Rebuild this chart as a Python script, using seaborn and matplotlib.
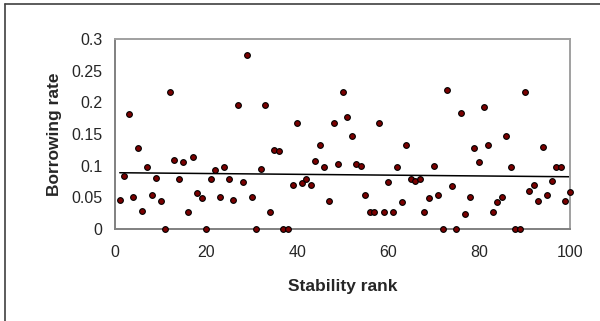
import numpy as np
import pandas as pd
import matplotlib
matplotlib.use('Agg')
import matplotlib.pyplot as plt
from matplotlib.lines import Line2D
from matplotlib.ticker import FuncFormatter
import seaborn as sns

sns.set_style('white')
plt.rcParams['font.family'] = ['Liberation Sans', 'DejaVu Sans']

# stability rank 1..100 and borrowing rate
rank = list(range(1, 101))
rate = [
    0.046, 0.083, 0.181, 0.051, 0.128, 0.028, 0.098, 0.053, 0.081, 0.044,
    0.000, 0.216, 0.109, 0.079, 0.106, 0.026, 0.114, 0.056, 0.049, 0.000,
    0.079, 0.093, 0.051, 0.098, 0.079, 0.046, 0.195, 0.074, 0.274, 0.051,
    0.000, 0.095, 0.195, 0.026, 0.125, 0.123, 0.000, 0.000, 0.070, 0.167,
    0.072, 0.079, 0.070, 0.107, 0.132, 0.098, 0.044, 0.167, 0.102, 0.216,
    0.177, 0.146, 0.102, 0.100, 0.053, 0.026, 0.026, 0.167, 0.026, 0.074,
    0.026, 0.098, 0.042, 0.132, 0.079, 0.076, 0.079, 0.026, 0.049, 0.100,
    0.053, 0.000, 0.220, 0.067, 0.000, 0.183, 0.023, 0.051, 0.128, 0.106,
    0.192, 0.132, 0.026, 0.042, 0.051, 0.146, 0.098, 0.000, 0.000, 0.216,
    0.060, 0.070, 0.044, 0.130, 0.053, 0.076, 0.098, 0.098, 0.044, 0.058,
]
df = pd.DataFrame({'rank': rank, 'rate': rate})

fig = plt.figure(figsize=(6, 3.21), dpi=100)
ax = fig.add_axes([0.192, 0.287, 0.758, 0.592])

# trend line first, points on top
sns.regplot(data=df, x='rank', y='rate', ax=ax, ci=None, scatter=False,
            line_kws={'color': 'black', 'lw': 1.1})
sns.scatterplot(data=df, x='rank', y='rate', ax=ax, color='#7a0000',
                edgecolor='black', linewidth=0.8, s=17, zorder=3, clip_on=False)

ax.set_xlim(0, 100)
ax.set_ylim(0, 0.3)
ax.set_xticks(range(0, 101, 20))
ax.set_yticks(np.arange(0, 0.301, 0.05))
ax.yaxis.set_major_formatter(FuncFormatter(lambda v, p: f'{v:g}'))
ax.tick_params(axis='both', width=1, color='#808080', labelsize=11.5)
ax.tick_params(axis='x', direction='inout', length=5, pad=9)
ax.tick_params(axis='y', direction='out', length=4, pad=5)
for sp in ax.spines.values():
    sp.set_color('#a0a0a0')
    sp.set_linewidth(1.4)
ax.spines['left'].set_color('#808080')
ax.spines['bottom'].set_color('#808080')
ax.set_xlabel('Stability rank', fontsize=12.5, fontweight='bold', labelpad=14)
ax.set_ylabel('Borrowing rate', fontsize=12.5, fontweight='bold', labelpad=7)

# chart area frame, only its top and left edges fall inside the image
fig.add_artist(Line2D([5 / 600, 5 / 600], [0, 1 - 4 / 321], color='#404040', lw=1.2))
fig.add_artist(Line2D([5 / 600, 1], [1 - 4 / 321, 1 - 4 / 321], color='#404040', lw=1.2))

fig.savefig('out.png', dpi=100)
